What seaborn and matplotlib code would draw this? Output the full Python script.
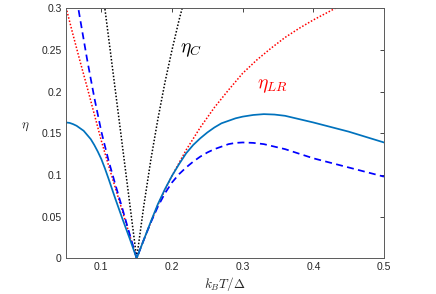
import numpy as np
import pandas as pd
import matplotlib
matplotlib.use("Agg")
import matplotlib.pyplot as plt
import seaborn as sns

# curvas (k_B T / Delta vs eta)
t_eta = [0.05, 0.055, 0.06, 0.065, 0.07, 0.075, 0.08, 0.085, 0.09, 0.095, 0.10,
         0.105, 0.11, 0.12, 0.13, 0.14, 0.15,
         0.16, 0.17, 0.18, 0.19, 0.20, 0.21, 0.22, 0.23, 0.24, 0.25, 0.26, 0.27,
         0.28, 0.29, 0.30, 0.315, 0.33, 0.345, 0.36, 0.38, 0.40, 0.45, 0.50]
eta = [0.163, 0.1625, 0.161, 0.159, 0.156, 0.153, 0.148, 0.143, 0.136, 0.128, 0.119,
       0.108, 0.096, 0.071, 0.047, 0.024, 0.0,
       0.022, 0.044, 0.065, 0.083, 0.099, 0.113, 0.126, 0.136, 0.144, 0.151, 0.157, 0.162,
       0.165, 0.168, 0.170, 0.172, 0.173, 0.1725, 0.171, 0.167, 0.163, 0.152, 0.139]

t_dash = [0.065, 0.07, 0.08, 0.09, 0.10, 0.11, 0.12, 0.13, 0.14, 0.15,
          0.16, 0.17, 0.18, 0.19, 0.20, 0.21, 0.22, 0.23, 0.24, 0.25, 0.26, 0.27,
          0.28, 0.29, 0.30, 0.315, 0.33, 0.36, 0.40, 0.45, 0.50]
eta_dash = [0.312, 0.287, 0.238, 0.193, 0.152, 0.118, 0.088, 0.059, 0.029, 0.0,
            0.022, 0.043, 0.062, 0.078, 0.091, 0.101, 0.109, 0.116, 0.122, 0.127, 0.131, 0.134,
            0.137, 0.1385, 0.139, 0.1385, 0.137, 0.131, 0.120, 0.109, 0.098]

t_lr = [0.05, 0.06, 0.07, 0.08, 0.09, 0.10, 0.11, 0.12, 0.13, 0.14, 0.15,
        0.16, 0.17, 0.18, 0.19, 0.20, 0.22, 0.24, 0.26, 0.28, 0.30, 0.32,
        0.34, 0.36, 0.38, 0.40, 0.42, 0.44]
eta_lr = [0.301, 0.268, 0.236, 0.205, 0.173, 0.141, 0.112, 0.084, 0.056, 0.028, 0.0,
          0.022, 0.043, 0.064, 0.082, 0.099, 0.130, 0.157, 0.181, 0.202, 0.222, 0.238,
          0.252, 0.265, 0.276, 0.286, 0.295, 0.304]

t_c = [0.10, 0.125, 0.15, 0.16, 0.17, 0.18, 0.19, 0.20, 0.21, 0.22]
eta_c = [0.333, 0.167, 0.0, 0.0625, 0.118, 0.167, 0.211, 0.25, 0.286, 0.318]

xticks = [0.1, 0.2, 0.3, 0.4, 0.5]
xticklabels = ["0.1", "0.2", "0.3", "0.4", "0.5"]
yticks = [0, 0.05, 0.1, 0.15, 0.2, 0.25, 0.3]
yticklabels = ["0", "0.05", "0.1", "0.15", "0.2", "0.25", "0.3"]

sns.set_style("white")
plt.rcParams['font.family'] = ['Liberation Sans', 'DejaVu Sans']
plt.rcParams['mathtext.fontset'] = 'cm'

fig = plt.figure(figsize=(4.36, 2.94), dpi=100)
ax = fig.add_axes([0.1514, 0.1214, 0.7293, 0.8504])

df_eta = pd.DataFrame({'T': t_eta, 'eta': eta})
df_dash = pd.DataFrame({'T': t_dash, 'eta': eta_dash})
df_lr = pd.DataFrame({'T': t_lr, 'eta': eta_lr})
df_c = pd.DataFrame({'T': t_c, 'eta': eta_c})

sns.lineplot(data=df_c, x='T', y='eta', ax=ax, color='black', linestyle=(0, (1, 1.2)), linewidth=1.1, sort=False)
sns.lineplot(data=df_lr, x='T', y='eta', ax=ax, color='#FF0000', linestyle=(0, (1, 1.2)), linewidth=1.1, sort=False)
sns.lineplot(data=df_dash, x='T', y='eta', ax=ax, color='#0000FF', linestyle=(0, (4, 2.5)), linewidth=1.25, sort=False)
sns.lineplot(data=df_eta, x='T', y='eta', ax=ax, color='#0072BD', linewidth=1.25, sort=False)

ax.set_xlim(0.05, 0.5)
ax.set_ylim(0, 0.3)
ax.set_xticks(xticks)
ax.set_xticklabels(xticklabels)
ax.set_yticks(yticks)
ax.set_yticklabels(yticklabels)
ax.tick_params(direction='in', length=3, width=0.6, top=True, right=True,
               labelsize=7.5, colors='#262626', pad=3)
for s in ax.spines.values():
    s.set_color('#5a5a5a')
    s.set_linewidth(0.7)

ax.set_xlabel(r'$k_BT/\Delta$', fontsize=9.5, labelpad=2)
ax.set_ylabel(r'$\eta$', fontsize=9.5, rotation=0, labelpad=12)

ax.text(0.211, 0.25, r'$\eta_C$', fontsize=14, ha='left', va='center', color='black')
ax.text(0.320, 0.207, r'$\eta_{LR}$', fontsize=14, ha='left', va='center', color='#FF0000')

fig.savefig("out.png", dpi=100)
